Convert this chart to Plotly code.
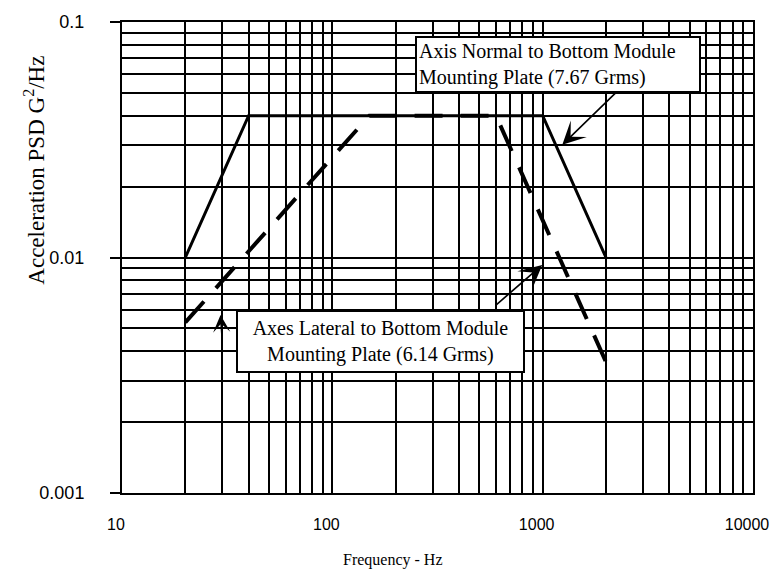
import math
import plotly.graph_objects as go

# Axis normal to bottom module mounting plate (7.67 Grms)
normal_freq = [20, 40, 1000, 2000]
normal_psd = [0.01, 0.04, 0.04, 0.01]

# Axes lateral to bottom module mounting plate (6.14 Grms)
lateral_freq = [20, 150, 600, 2000]
lateral_psd = [0.0053, 0.04, 0.04, 0.0036]

x_major = [10, 100, 1000, 10000]
x_major_text = ["10", "100", "1000", "10000"]
y_major = [0.001, 0.01, 0.1]
y_major_text = ["0.001", "0.01", "0.1"]

# 2..9 subdivisions of every decade for the log grid
x_minor = [m * 10 ** k for k in (1, 2, 3) for m in range(2, 10)]
y_minor = [m * 10.0 ** k for k in (-3, -2) for m in range(2, 10)]

SANS = "Liberation Sans, Arial, sans-serif"
SERIF = "Liberation Serif, Times New Roman, serif"

fig = go.Figure()
fig.add_trace(go.Scatter(
    x=normal_freq, y=normal_psd, mode="lines",
    line=dict(color="black", width=3), showlegend=False,
))
fig.add_trace(go.Scatter(
    x=lateral_freq, y=lateral_psd, mode="lines",
    line=dict(color="black", width=4, dash="28px,18px"), showlegend=False,
))

grid = dict(color="black", width=2)
fig.update_xaxes(
    type="log", range=[1, 4],
    tickvals=x_major, ticktext=x_major_text, ticks="",
    ticklabelstandoff=16, ticklabelshift=-6,
    tickfont=dict(family=SANS, size=16, color="black"),
    showgrid=True, gridcolor=grid["color"], gridwidth=grid["width"],
    minor=dict(tickvals=x_minor, showgrid=True, gridcolor=grid["color"],
               gridwidth=grid["width"], ticks=""),
    showline=True, linecolor="black", linewidth=2, mirror=True,
    zeroline=False,
)
fig.update_yaxes(
    type="log", range=[-3, -1],
    tickvals=y_major, ticktext=y_major_text,
    ticks="outside", ticklen=10, tickwidth=2, tickcolor="black",
    ticklabelstandoff=22,
    tickfont=dict(family=SANS, size=18, color="black"),
    showgrid=True, gridcolor=grid["color"], gridwidth=grid["width"],
    minor=dict(tickvals=y_minor, showgrid=True, gridcolor=grid["color"],
               gridwidth=grid["width"], ticks=""),
    showline=True, linecolor="black", linewidth=2, mirror=True,
    zeroline=False,
)


def arrow(head_f, head_p, tail_f, tail_p, size=2.4):
    return dict(
        x=math.log10(head_f), y=math.log10(head_p), xref="x", yref="y",
        ax=math.log10(tail_f), ay=math.log10(tail_p), axref="x", ayref="y",
        text="", showarrow=True, arrowhead=3, arrowsize=size,
        arrowwidth=1.6, arrowcolor="black",
    )


annotations = [
    arrow(1240, 0.0301, 2480, 0.055),
    arrow(995, 0.0093, 590, 0.0062),
    arrow(29.4, 0.0057, 29.9, 0.00458, size=1.8),
    dict(
        text="Axis Normal to Bottom Module<br>Mounting Plate (7.67 Grms)",
        xref="paper", yref="paper", x=0.4646, y=0.9705,
        xanchor="left", yanchor="top", align="left", showarrow=False,
        font=dict(family=SERIF, size=20, color="black"),
        bgcolor="white", bordercolor="black", borderwidth=2, borderpad=2,
        width=278,
    ),
    dict(
        text="Axes Lateral to Bottom Module<br>Mounting Plate (6.14 Grms)",
        xref="paper", yref="paper", x=0.181, y=0.3895,
        xanchor="left", yanchor="top", align="center", showarrow=False,
        font=dict(family=SERIF, size=20, color="black"),
        bgcolor="white", bordercolor="black", borderwidth=2, borderpad=5,
        width=275,
    ),
    dict(
        text="Acceleration PSD G<sup>2</sup>/Hz",
        xref="paper", yref="paper", x=-0.139, y=0.685,
        xanchor="center", yanchor="middle", textangle=-90, showarrow=False,
        font=dict(family=SERIF, size=23, color="black"),
    ),
    dict(
        text="Frequency - Hz",
        xref="paper", yref="paper", x=0.43, y=-0.143,
        xanchor="center", yanchor="middle", showarrow=False,
        font=dict(family=SERIF, size=16, color="black"),
    ),
]

fig.update_layout(
    width=781, height=582,
    margin=dict(l=122, r=24, t=18, b=89),
    paper_bgcolor="white", plot_bgcolor="white",
    annotations=annotations,
    showlegend=False,
)

fig.write_html("out.html")
